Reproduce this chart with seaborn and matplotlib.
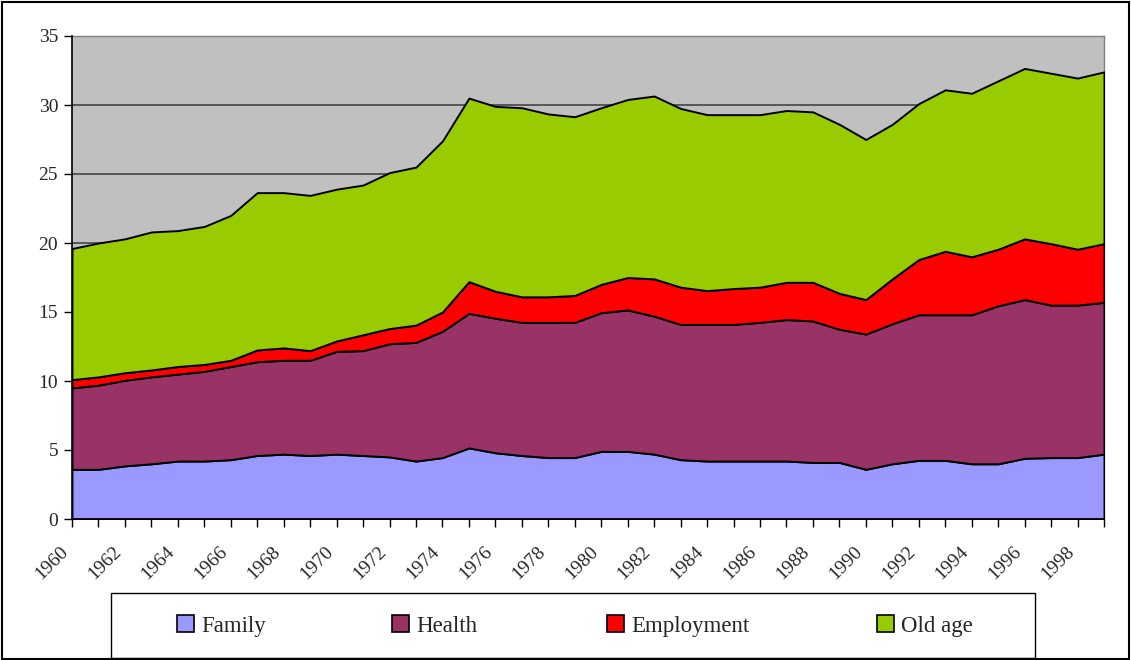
import numpy as np
import pandas as pd
import matplotlib
matplotlib.use("Agg")
import matplotlib.pyplot as plt
import matplotlib.transforms as mtransforms
from matplotlib.patches import Patch, Rectangle
import seaborn as sns

# --- DATA (% share per function) ---
years = list(range(1960, 2000))
family = [3.6, 3.6, 3.85, 4.0, 4.2, 4.2, 4.3, 4.6, 4.7, 4.6,
          4.7, 4.6, 4.5, 4.2, 4.45, 5.15, 4.8, 4.6, 4.45, 4.45,
          4.9, 4.9, 4.7, 4.3, 4.2, 4.2, 4.2, 4.2, 4.1, 4.1,
          3.6, 4.0, 4.25, 4.25, 4.0, 4.0, 4.4, 4.45, 4.45, 4.7]
health = [5.9, 6.1, 6.2, 6.3, 6.3, 6.5, 6.75, 6.8, 6.8, 6.9,
          7.45, 7.6, 8.2, 8.6, 9.15, 9.75, 9.75, 9.65, 9.8, 9.8,
          10.05, 10.25, 10.0, 9.8, 9.9, 9.9, 10.05, 10.25, 10.25, 9.65,
          9.8, 10.15, 10.55, 10.55, 10.8, 11.45, 11.5, 11.05, 11.05, 11.0]
employment = [0.6, 0.6, 0.55, 0.5, 0.55, 0.5, 0.45, 0.85, 0.9, 0.7,
              0.75, 1.15, 1.1, 1.25, 1.4, 2.3, 1.95, 1.85, 1.85, 1.95,
              2.05, 2.35, 2.7, 2.7, 2.45, 2.6, 2.55, 2.7, 2.8, 2.6,
              2.5, 3.25, 4.0, 4.6, 4.2, 4.1, 4.4, 4.45, 4.05, 4.25]
old_age = [9.5, 9.7, 9.7, 10.0, 9.85, 10.0, 10.5, 11.4, 11.25, 11.25,
           11.0, 10.85, 11.3, 11.45, 12.4, 13.3, 13.4, 13.7, 13.25, 12.95,
           12.8, 12.9, 13.25, 12.95, 12.75, 12.6, 12.5, 12.45, 12.35, 12.25,
           11.6, 11.2, 11.3, 11.7, 11.85, 12.2, 12.35, 12.35, 12.4, 12.45]

series_names = ["Family", "Health", "Employment", "Old age"]
series_colors = ["#9999FF", "#993366", "#FF0000", "#99CC00"]
tick_labels = [str(y) if y % 2 == 0 else "" for y in years]

df = pd.DataFrame({"year": years, "Family": family, "Health": health,
                   "Employment": employment, "Old age": old_age})

# --- STYLE ---
sns.set_style("ticks")
plt.rcParams['font.family'] = ['Liberation Serif', 'DejaVu Serif']

W, H = 1131, 660
fig = plt.figure(figsize=(W / 100, H / 100), dpi=100)
ax = fig.add_axes([72 / W, 1 - 519 / H, (1104 - 72) / W, (519 - 36) / H])
ax.set_facecolor("#C0C0C0")

ax.stackplot(df["year"], *[df[n] for n in series_names], colors=series_colors,
             edgecolor="black", linewidth=1.4, zorder=3)

ax.set_xlim(1960, 1999)
ax.set_ylim(0, 35)
ax.set_yticks(range(0, 36, 5))
ax.set_xticks(years)
ax.set_xticklabels(tick_labels, rotation=45, ha="right", va="top",
                   rotation_mode="anchor")
ax.grid(axis="y", color="#444444", linewidth=1.2, zorder=1)
ax.set_axisbelow(True)

ax.tick_params(axis="both", direction="out", length=6, width=1, color="black",
               labelsize=14)
ax.tick_params(axis="x", pad=10)
ax.tick_params(axis="y", pad=4)

# shift the slanted year labels a bit left, like the original
shift = mtransforms.ScaledTranslation(-0.12, -0.02, fig.dpi_scale_trans)
for lbl in ax.get_xticklabels():
    lbl.set_transform(lbl.get_transform() + shift)

for side in ["left", "bottom"]:
    ax.spines[side].set_color("black")
    ax.spines[side].set_linewidth(1.2)
for side in ["top", "right"]:
    ax.spines[side].set_color("#808080")
    ax.spines[side].set_linewidth(1.0)
ax.spines["left"].set_zorder(5)
ax.spines["bottom"].set_zorder(5)

# legend box at the bottom
fig.patches.append(Rectangle((111 / W, 2 / H), (1035 - 111) / W, (658 - 593) / H,
                             transform=fig.transFigure, facecolor="white",
                             edgecolor="black", linewidth=1.0, zorder=0))
entry_x = [177, 392, 607, 877]
for name, color, x in zip(series_names, series_colors, entry_x):
    h = Patch(facecolor=color, edgecolor="black", linewidth=1.2, label=name)
    fig.legend(handles=[h], loc="center left", bbox_to_anchor=(x / W, 1 - 626 / H),
               frameon=False, fontsize=16.5, handlelength=0.75, handleheight=0.75,
               handletextpad=0.3, borderpad=0, borderaxespad=0)

# outer chart border
fig.patches.append(Rectangle((0.002, 0.002), 0.996, 0.995, transform=fig.transFigure,
                             fill=False, edgecolor="black", linewidth=1.5))

fig.savefig("out.png", dpi=100)
